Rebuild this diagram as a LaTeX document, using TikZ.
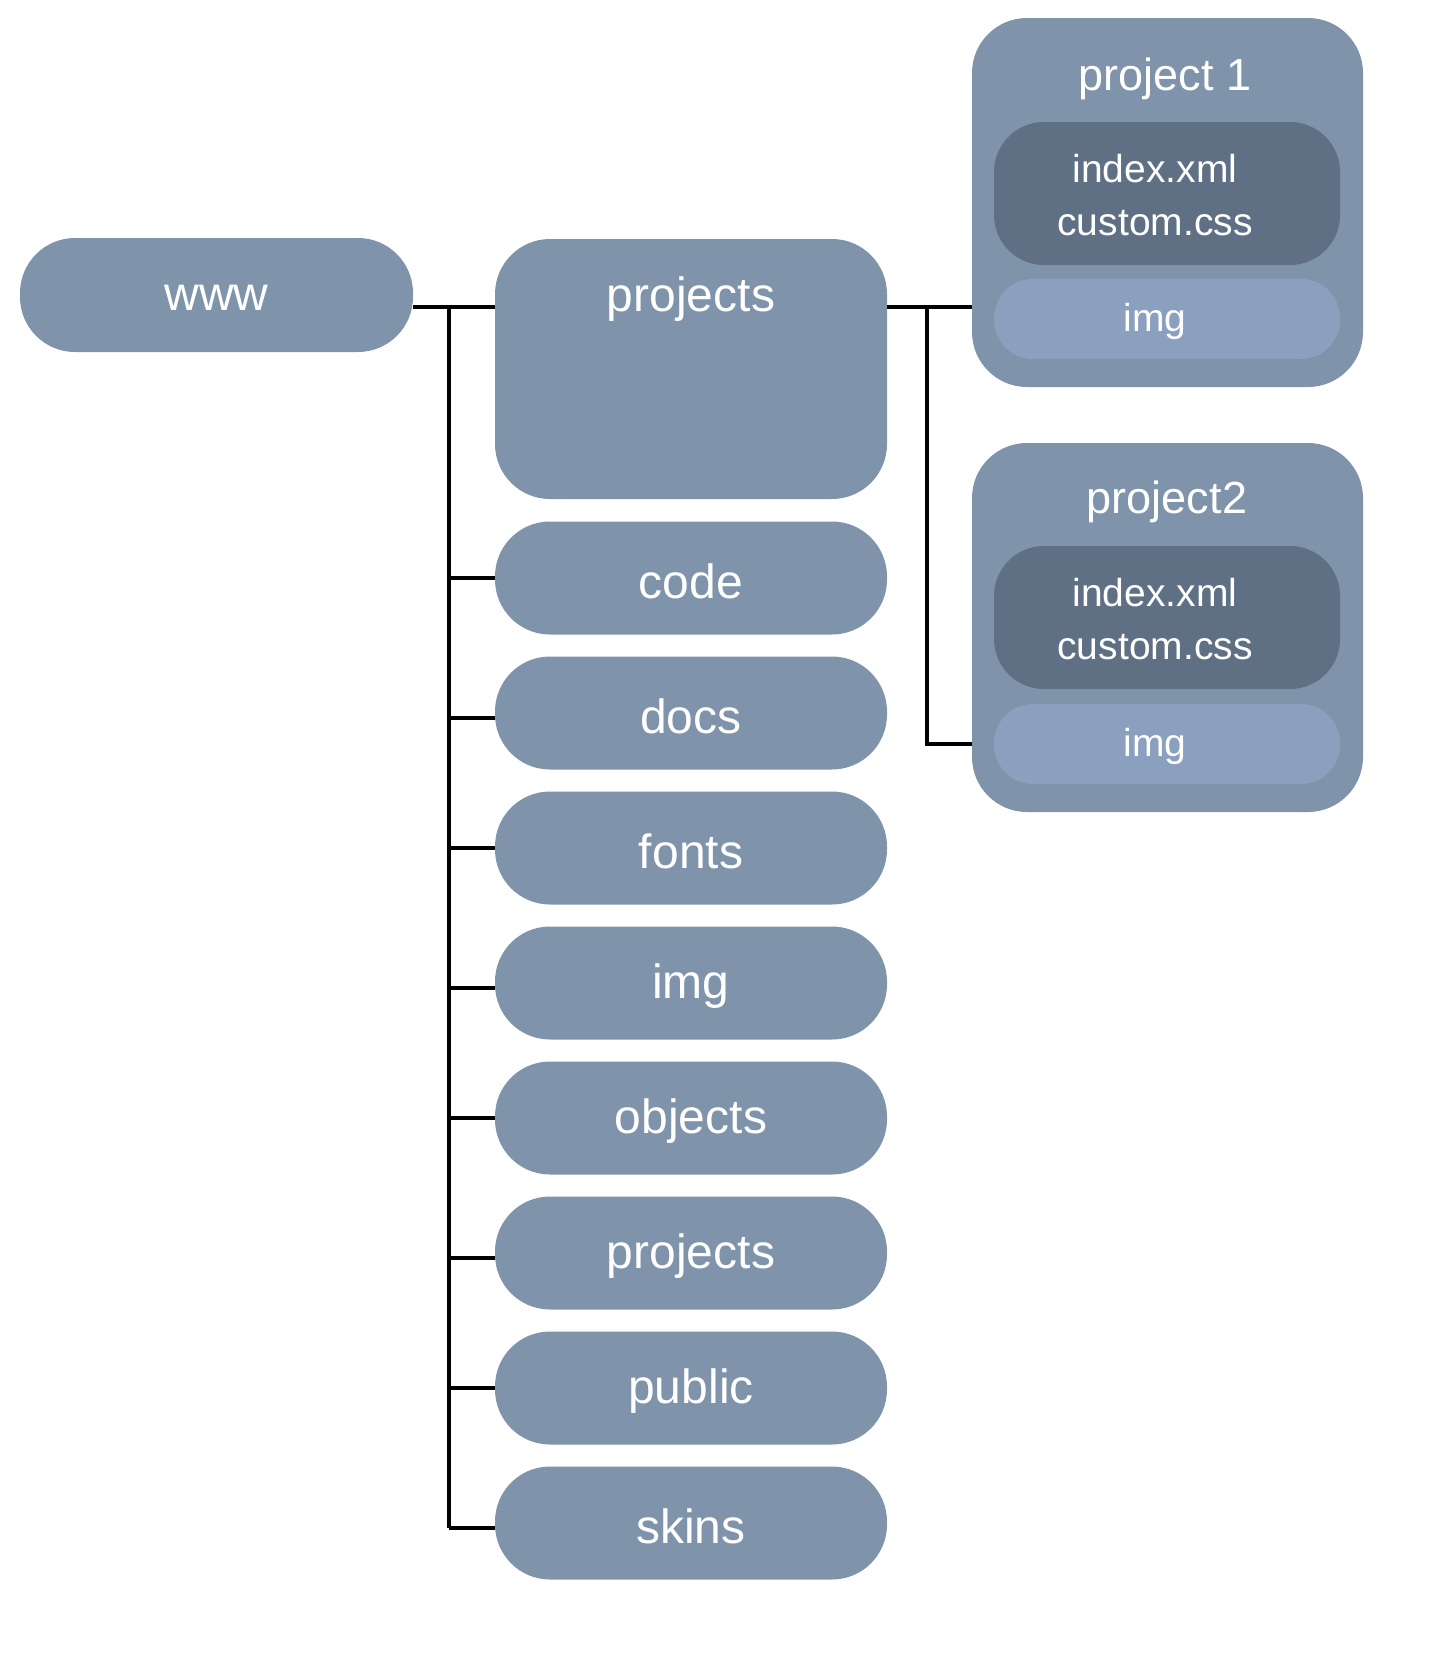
\documentclass[tikz,border=0pt]{standalone}
\usepackage{fontspec}
\setmainfont{Liberation Sans}
\definecolor{boxc}{HTML}{7F93AB}
\definecolor{darkc}{HTML}{5F6F84}
\definecolor{lightc}{HTML}{8BA0BE}
\begin{document}
\begin{tikzpicture}[x=1pt,y=-1pt,
  box/.style={fill=boxc, rounded corners=55pt, inner sep=0pt, minimum width=392pt, minimum height=113pt},
  bigtext/.style={text=white, inner sep=0pt, yshift=-3pt, font=\fontsize{48}{57}\selectfont},
  midtext/.style={text=white, inner sep=0pt, yshift=-3pt, font=\fontsize{45}{54}\selectfont},
  smalltext/.style={text=white, inner sep=0pt, align=center, yshift=-2pt, font=\fontsize{39}{53}\selectfont},
  pbox/.style={fill=boxc, rounded corners=55pt, inner sep=0pt, minimum width=391pt, minimum height=369pt},
  darkbox/.style={fill=darkc, rounded corners=50pt, inner sep=0pt, minimum width=346pt, minimum height=143pt},
  imgbox/.style={fill=lightc, rounded corners=39pt, inner sep=0pt, minimum width=346pt, minimum height=80pt},
  conn/.style={draw=black, line width=3.5pt}]
\useasboundingbox (0,0) rectangle (1448,1658);

% root
\node[box, minimum width=393pt, minimum height=114pt] (www) at (216.5,295) {};
\node[bigtext] (wwwt) at (216.5,295) {www};

% projects big box
\node[box, minimum height=260pt] (projA) at (691,369) {};
\node[bigtext] (projAt) at (691,296) {projects};

% list
\node[box] (code) at (691,578) {};
\node[bigtext] (codet) at (691,578) {code};
\node[box] (docs) at (691,713) {};
\node[bigtext] (docst) at (691,713) {docs};
\node[box] (fonts) at (691,848) {};
\node[bigtext] (fontst) at (691,848) {fonts};
\node[box] (img) at (691,983) {};
\node[bigtext] (imgt) at (691,983) {img};
\node[box] (objects) at (691,1118) {};
\node[bigtext] (objectst) at (691,1118) {objects};
\node[box] (projB) at (691,1253) {};
\node[bigtext] (projBt) at (691,1253) {projects};
\node[box] (public) at (691,1388) {};
\node[bigtext] (publict) at (691,1388) {public};
\node[box] (skins) at (691,1523) {};
\node[bigtext] (skinst) at (691,1523) {skins};

% project 1
\node[pbox] (p1) at (1167.5,202.5) {};
\node[midtext] (p1t) at (1165,76) {project 1};
\node[darkbox] (p1d) at (1167,193.5) {};
\node[smalltext] (p1dt) at (1155,193.5) {index.xml\\custom.css};
\node[imgbox] (p1i) at (1167,319) {};
\node[smalltext] (p1it) at (1155,319) {img};

% project 2
\node[pbox] (p2) at (1167.5,627.5) {};
\node[midtext] (p2t) at (1167,499) {project2};
\node[darkbox] (p2d) at (1167,617.5) {};
\node[smalltext] (p2dt) at (1155,617.5) {index.xml\\custom.css};
\node[imgbox] (p2i) at (1167,744) {};
\node[smalltext] (p2it) at (1155,744) {img};

% connectors
\coordinate (t0) at (449,307);
\coordinate (u0) at (927,307);
\draw[conn] (www.east |- t0) -- (projA.west |- t0);
\draw[conn] (t0) -- (t0 |- skins.west) ++(0,5) coordinate (tb) -- ([yshift=-5pt]skins.west);
\draw[conn] (t0) -- (tb);
\foreach \n in {code,fonts,objects,public}
  \draw[conn] (t0 |- \n.west) -- (\n.west);
\foreach \n in {docs,img,projB}
  \draw[conn] ([yshift=-5pt]t0 |- \n.west) -- ([yshift=-5pt]\n.west);
\draw[conn] (projA.east |- u0) -- (p1.west |- u0);
\draw[conn] (u0) -- (u0 |- p2i.west) -- (p2.west |- p2i.west);
\end{tikzpicture}
\end{document}
